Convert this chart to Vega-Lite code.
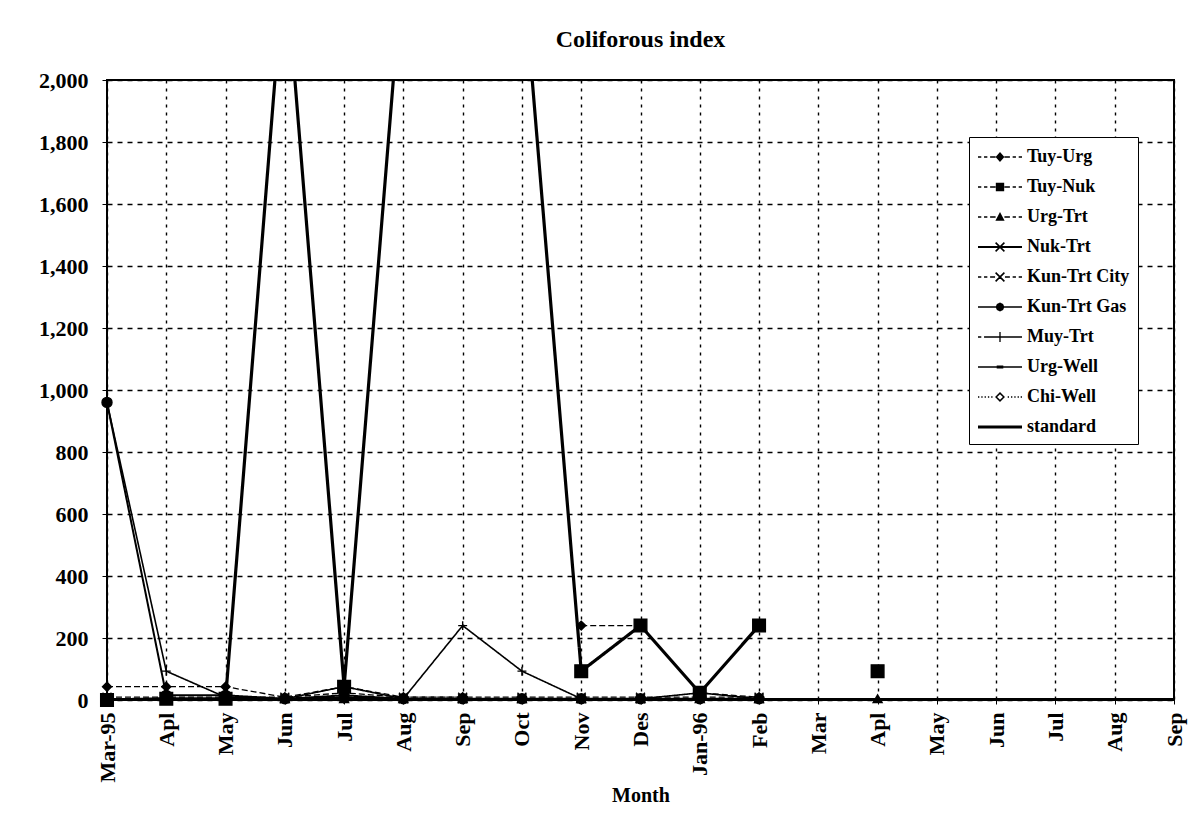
{
  "$schema": "https://vega.github.io/schema/vega-lite/v6.json",
  "width": 1067,
  "height": 620,
  "autosize": {"type": "none"},
  "padding": {"left": 107, "top": 80, "right": 28, "bottom": 124},
  "background": "white",
  "title": {"text": "Coliforous index", "font": "Liberation Serif", "fontSize": 24, "fontWeight": "bold", "color": "black", "offset": 17, "anchor": "middle"},
  "config": {"view": {"stroke": "black", "strokeWidth": 2}},
  "datasets": {
    "main": [
      {"series": "Tuy-Urg", "month": "Mar-95", "value": 43},
      {"series": "Tuy-Urg", "month": "Apl-95", "value": 43},
      {"series": "Tuy-Urg", "month": "May-95", "value": 43},
      {"series": "Tuy-Urg", "month": "Jun-95", "value": 9},
      {"series": "Tuy-Urg", "month": "Jul-95", "value": 43},
      {"series": "Tuy-Urg", "month": "Aug-95", "value": 9},
      {"series": "Tuy-Urg", "month": "Sep-95", "value": 9},
      {"series": "Tuy-Urg", "month": "Oct-95", "value": null},
      {"series": "Tuy-Urg", "month": "Nov-95", "value": 240},
      {"series": "Tuy-Urg", "month": "Des-95", "value": 240},
      {"series": "Tuy-Urg", "month": "Jan-96", "value": 23},
      {"series": "Tuy-Urg", "month": "Feb-96", "value": 9},
      {"series": "Tuy-Nuk", "month": "Mar-95", "value": 0},
      {"series": "Tuy-Nuk", "month": "Apl-95", "value": 4},
      {"series": "Tuy-Nuk", "month": "May-95", "value": 4},
      {"series": "Tuy-Nuk", "month": "Jun-95", "value": 2400},
      {"series": "Tuy-Nuk", "month": "Jul-95", "value": 43},
      {"series": "Tuy-Nuk", "month": "Aug-95", "value": 2400},
      {"series": "Tuy-Nuk", "month": "Sep-95", "value": 2400},
      {"series": "Tuy-Nuk", "month": "Oct-95", "value": 2400},
      {"series": "Tuy-Nuk", "month": "Nov-95", "value": 93},
      {"series": "Tuy-Nuk", "month": "Des-95", "value": 240},
      {"series": "Tuy-Nuk", "month": "Jan-96", "value": 23},
      {"series": "Tuy-Nuk", "month": "Feb-96", "value": 240},
      {"series": "Tuy-Nuk", "month": "Mar-96", "value": null},
      {"series": "Tuy-Nuk", "month": "Apl-96", "value": 93},
      {"series": "Urg-Trt", "month": "Mar-95", "value": 4},
      {"series": "Urg-Trt", "month": "Apl-95", "value": 4},
      {"series": "Urg-Trt", "month": "May-95", "value": 4},
      {"series": "Urg-Trt", "month": "Jun-95", "value": 4},
      {"series": "Urg-Trt", "month": "Jul-95", "value": 4},
      {"series": "Urg-Trt", "month": "Aug-95", "value": 4},
      {"series": "Urg-Trt", "month": "Sep-95", "value": 4},
      {"series": "Urg-Trt", "month": "Oct-95", "value": 4},
      {"series": "Urg-Trt", "month": "Nov-95", "value": 4},
      {"series": "Urg-Trt", "month": "Des-95", "value": 4},
      {"series": "Urg-Trt", "month": "Jan-96", "value": 4},
      {"series": "Urg-Trt", "month": "Feb-96", "value": 4},
      {"series": "Urg-Trt", "month": "Mar-96", "value": null},
      {"series": "Urg-Trt", "month": "Apl-96", "value": 4},
      {"series": "Nuk-Trt", "month": "Mar-95", "value": 4},
      {"series": "Nuk-Trt", "month": "Apl-95", "value": 4},
      {"series": "Nuk-Trt", "month": "May-95", "value": 4},
      {"series": "Nuk-Trt", "month": "Jun-95", "value": 4},
      {"series": "Nuk-Trt", "month": "Jul-95", "value": 43},
      {"series": "Nuk-Trt", "month": "Aug-95", "value": 4},
      {"series": "Nuk-Trt", "month": "Sep-95", "value": 4},
      {"series": "Nuk-Trt", "month": "Oct-95", "value": 4},
      {"series": "Nuk-Trt", "month": "Nov-95", "value": 4},
      {"series": "Nuk-Trt", "month": "Des-95", "value": 4},
      {"series": "Nuk-Trt", "month": "Jan-96", "value": 23},
      {"series": "Nuk-Trt", "month": "Feb-96", "value": 4},
      {"series": "Kun-Trt City", "month": "Mar-95", "value": 9},
      {"series": "Kun-Trt City", "month": "Apl-95", "value": 9},
      {"series": "Kun-Trt City", "month": "May-95", "value": 9},
      {"series": "Kun-Trt City", "month": "Jun-95", "value": 9},
      {"series": "Kun-Trt City", "month": "Jul-95", "value": 23},
      {"series": "Kun-Trt City", "month": "Aug-95", "value": 9},
      {"series": "Kun-Trt City", "month": "Sep-95", "value": 9},
      {"series": "Kun-Trt City", "month": "Oct-95", "value": 9},
      {"series": "Kun-Trt City", "month": "Nov-95", "value": 9},
      {"series": "Kun-Trt City", "month": "Des-95", "value": 9},
      {"series": "Kun-Trt City", "month": "Jan-96", "value": 9},
      {"series": "Kun-Trt City", "month": "Feb-96", "value": 9},
      {"series": "Kun-Trt Gas", "month": "Mar-95", "value": 960},
      {"series": "Kun-Trt Gas", "month": "Apl-95", "value": 15},
      {"series": "Kun-Trt Gas", "month": "May-95", "value": 15},
      {"series": "Kun-Trt Gas", "month": "Jun-95", "value": 4},
      {"series": "Kun-Trt Gas", "month": "Jul-95", "value": 15},
      {"series": "Kun-Trt Gas", "month": "Aug-95", "value": 4},
      {"series": "Kun-Trt Gas", "month": "Sep-95", "value": 4},
      {"series": "Kun-Trt Gas", "month": "Oct-95", "value": 4},
      {"series": "Kun-Trt Gas", "month": "Nov-95", "value": 4},
      {"series": "Kun-Trt Gas", "month": "Des-95", "value": 4},
      {"series": "Kun-Trt Gas", "month": "Jan-96", "value": 4},
      {"series": "Kun-Trt Gas", "month": "Feb-96", "value": 4},
      {"series": "Muy-Trt", "month": "Mar-95", "value": 960},
      {"series": "Muy-Trt", "month": "Apl-95", "value": 93},
      {"series": "Muy-Trt", "month": "May-95", "value": 9},
      {"series": "Muy-Trt", "month": "Jun-95", "value": 4},
      {"series": "Muy-Trt", "month": "Jul-95", "value": 9},
      {"series": "Muy-Trt", "month": "Aug-95", "value": 4},
      {"series": "Muy-Trt", "month": "Sep-95", "value": 240},
      {"series": "Muy-Trt", "month": "Oct-95", "value": 93},
      {"series": "Muy-Trt", "month": "Nov-95", "value": 4},
      {"series": "Muy-Trt", "month": "Des-95", "value": 4},
      {"series": "Muy-Trt", "month": "Jan-96", "value": 4},
      {"series": "Muy-Trt", "month": "Feb-96", "value": 4},
      {"series": "Urg-Well", "month": "Mar-95", "value": 0},
      {"series": "Urg-Well", "month": "Apl-95", "value": 0},
      {"series": "Urg-Well", "month": "May-95", "value": 0},
      {"series": "Urg-Well", "month": "Jun-95", "value": 0},
      {"series": "Urg-Well", "month": "Jul-95", "value": 0},
      {"series": "Urg-Well", "month": "Aug-95", "value": 0},
      {"series": "Urg-Well", "month": "Sep-95", "value": 0},
      {"series": "Urg-Well", "month": "Oct-95", "value": 0},
      {"series": "Urg-Well", "month": "Nov-95", "value": 0},
      {"series": "Urg-Well", "month": "Des-95", "value": 0},
      {"series": "Urg-Well", "month": "Jan-96", "value": 0},
      {"series": "Urg-Well", "month": "Feb-96", "value": 0},
      {"series": "Chi-Well", "month": "Mar-95", "value": 3},
      {"series": "Chi-Well", "month": "Apl-95", "value": 3},
      {"series": "Chi-Well", "month": "May-95", "value": 3},
      {"series": "Chi-Well", "month": "Jun-95", "value": 3},
      {"series": "Chi-Well", "month": "Jul-95", "value": 3},
      {"series": "Chi-Well", "month": "Aug-95", "value": 3},
      {"series": "Chi-Well", "month": "Sep-95", "value": 3},
      {"series": "Chi-Well", "month": "Oct-95", "value": 3},
      {"series": "Chi-Well", "month": "Nov-95", "value": 3},
      {"series": "Chi-Well", "month": "Des-95", "value": 3},
      {"series": "Chi-Well", "month": "Jan-96", "value": 3},
      {"series": "Chi-Well", "month": "Feb-96", "value": 3},
      {"series": "standard", "month": "Mar-95", "value": 0},
      {"series": "standard", "month": "Apl-95", "value": 0},
      {"series": "standard", "month": "May-95", "value": 0},
      {"series": "standard", "month": "Jun-95", "value": 0},
      {"series": "standard", "month": "Jul-95", "value": 0},
      {"series": "standard", "month": "Aug-95", "value": 0},
      {"series": "standard", "month": "Sep-95", "value": 0},
      {"series": "standard", "month": "Oct-95", "value": 0},
      {"series": "standard", "month": "Nov-95", "value": 0},
      {"series": "standard", "month": "Des-95", "value": 0},
      {"series": "standard", "month": "Jan-96", "value": 0},
      {"series": "standard", "month": "Feb-96", "value": 0},
      {"series": "standard", "month": "Mar-96", "value": 0},
      {"series": "standard", "month": "Apl-96", "value": 0},
      {"series": "standard", "month": "May-96", "value": 0},
      {"series": "standard", "month": "Jun-96", "value": 0},
      {"series": "standard", "month": "Jul-96", "value": 0},
      {"series": "standard", "month": "Aug-96", "value": 0},
      {"series": "standard", "month": "Sep-96", "value": 0}
    ],
    "legendrows": [
      {"series": "Tuy-Urg", "month": "Mar-95", "value": 0},
      {"series": "Tuy-Nuk", "month": "Mar-95", "value": 0},
      {"series": "Urg-Trt", "month": "Mar-95", "value": 0},
      {"series": "Nuk-Trt", "month": "Mar-95", "value": 0},
      {"series": "Kun-Trt City", "month": "Mar-95", "value": 0},
      {"series": "Kun-Trt Gas", "month": "Mar-95", "value": 0},
      {"series": "Muy-Trt", "month": "Mar-95", "value": 0},
      {"series": "Urg-Well", "month": "Mar-95", "value": 0},
      {"series": "Chi-Well", "month": "Mar-95", "value": 0},
      {"series": "standard", "month": "Mar-95", "value": 0}
    ]
  },
  "encoding": {
    "x": {
      "field": "month", "type": "ordinal",
      "scale": {"type": "point", "padding": 0, "domain": ["Mar-95", "Apl-95", "May-95", "Jun-95", "Jul-95", "Aug-95", "Sep-95", "Oct-95", "Nov-95", "Des-95", "Jan-96", "Feb-96", "Mar-96", "Apl-96", "May-96", "Jun-96", "Jul-96", "Aug-96", "Sep-96"]},
      "axis": {
        "title": "Month", "titleFont": "Liberation Serif", "titleFontSize": 20, "titleFontWeight": "bold", "titleColor": "black", "titlePadding": 3,
        "labelAngle": 270, "labelFont": "Liberation Serif", "labelFontSize": 22, "labelFontWeight": "bold", "labelColor": "black", "labelPadding": 8,
        "labelExpr": "datum.label == 'Mar-95' || datum.label == 'Jan-96' ? datum.label : substring(datum.label, 0, 3)",
        "grid": true, "gridColor": "black", "gridDash": [3, 5], "gridWidth": 1.4, "gridOpacity": 1,
        "domain": false, "ticks": true, "tickColor": "black", "tickSize": 4, "tickWidth": 1
      }
    },
    "y": {
      "field": "value", "type": "quantitative",
      "scale": {"domain": [0, 2000], "nice": false, "zero": true},
      "axis": {
        "title": null, "values": [0, 200, 400, 600, 800, 1000, 1200, 1400, 1600, 1800, 2000], "format": ",d",
        "labelFont": "Liberation Serif", "labelFontSize": 22, "labelFontWeight": "bold", "labelColor": "black", "labelPadding": 14,
        "grid": true, "gridColor": "black", "gridDash": [5, 5], "gridWidth": 1.4, "gridOpacity": 1,
        "domain": false, "ticks": true, "tickColor": "black", "tickSize": 5, "tickWidth": 1
      }
    }
  },
  "layer": [
    {
      "data": {"name": "main"},
      "mark": {"type": "line", "clip": true, "color": "black", "invalid": "break-paths-show-domains"},
      "encoding": {
        "detail": {"field": "series", "type": "nominal"},
        "strokeDash": {"field": "series", "type": "nominal", "legend": null,
          "scale": {"type": "ordinal", "domain": ["Tuy-Urg", "Tuy-Nuk", "Urg-Trt", "Nuk-Trt", "Kun-Trt City", "Kun-Trt Gas", "Muy-Trt", "Urg-Well", "Chi-Well", "standard"],
                    "range": [[6, 3], [1, 0], [6, 3], [1, 0], [6, 3], [1, 0], [1, 0], [1, 0], [2, 3], [1, 0]]}},
        "strokeWidth": {"field": "series", "type": "nominal", "legend": null,
          "scale": {"type": "ordinal", "domain": ["Tuy-Urg", "Tuy-Nuk", "Urg-Trt", "Nuk-Trt", "Kun-Trt City", "Kun-Trt Gas", "Muy-Trt", "Urg-Well", "Chi-Well", "standard"],
                    "range": [1.3, 3.2, 1.3, 1.6, 1.3, 2, 1.6, 1.3, 1.3, 4]}}
      }
    },
    {
      "data": {"name": "main"},
      "transform": [{"filter": "datum.value != null && datum.value <= 2000 && datum.series != 'standard'"}],
      "mark": {"type": "point", "filled": true, "fill": "black", "stroke": "black", "strokeWidth": 1.4, "opacity": 1},
      "encoding": {
        "shape": {"field": "series", "type": "nominal", "legend": null,
          "scale": {"domain": ["Tuy-Urg", "Tuy-Nuk", "Urg-Trt", "Nuk-Trt", "Kun-Trt City", "Kun-Trt Gas", "Muy-Trt", "Urg-Well", "Chi-Well"],
                    "range": ["diamond", "square", "triangle-up", "M-1,-1L1,1M-1,1L1,-1", "M-1,-1L1,1M-1,1L1,-1", "circle", "M-1,0L1,0M0,-1L0,1", "M-1,-0.3L1,-0.3L1,0.3L-1,0.3Z", "M0,-1L0,1M-0.87,-0.5L0.87,0.5M-0.87,0.5L0.87,-0.5"]}},
        "size": {"field": "series", "type": "nominal", "legend": null,
          "scale": {"type": "ordinal", "domain": ["Tuy-Urg", "Tuy-Nuk", "Urg-Trt", "Nuk-Trt", "Kun-Trt City", "Kun-Trt Gas", "Muy-Trt", "Urg-Well", "Chi-Well"],
                    "range": [80, 160, 80, 80, 80, 100, 80, 50, 100]}}
      }
    },
    {
      "data": {"name": "legendrows"},
      "mark": {"type": "point", "filled": true, "fill": "black", "opacity": 0},
      "encoding": {
        "shape": {"field": "series", "type": "nominal",
          "scale": {"domain": ["Tuy-Urg", "Tuy-Nuk", "Urg-Trt", "Nuk-Trt", "Kun-Trt City", "Kun-Trt Gas", "Muy-Trt", "Urg-Well", "Chi-Well", "standard"],
                    "range": [
                      "M-1,-0.06L-0.7,-0.06L-0.7,0.06L-1,0.06ZM-0.45,-0.06L-0.15,-0.06L-0.15,0.06L-0.45,0.06ZM0.1,-0.06L0.6,-0.06L0.6,0.06L0.1,0.06ZM1,-0.45L1.4,0L1,0.45L0.6,0ZM1.4,-0.06L1.9,-0.06L1.9,0.06L1.4,0.06ZM2.15,-0.06L2.45,-0.06L2.45,0.06L2.15,0.06ZM2.7,-0.06L3,-0.06L3,0.06L2.7,0.06Z",
                      "M-1,-0.06L-0.7,-0.06L-0.7,0.06L-1,0.06ZM-0.45,-0.06L-0.15,-0.06L-0.15,0.06L-0.45,0.06ZM0.1,-0.06L0.6,-0.06L0.6,0.06L0.1,0.06ZM0.62,-0.38L1.38,-0.38L1.38,0.38L0.62,0.38ZM1.4,-0.06L1.9,-0.06L1.9,0.06L1.4,0.06ZM2.15,-0.06L2.45,-0.06L2.45,0.06L2.15,0.06ZM2.7,-0.06L3,-0.06L3,0.06L2.7,0.06Z",
                      "M-1,-0.06L-0.7,-0.06L-0.7,0.06L-1,0.06ZM-0.45,-0.06L-0.15,-0.06L-0.15,0.06L-0.45,0.06ZM0.1,-0.06L0.6,-0.06L0.6,0.06L0.1,0.06ZM1,-0.45L1.42,0.35L0.58,0.35ZM1.4,-0.06L1.9,-0.06L1.9,0.06L1.4,0.06ZM2.15,-0.06L2.45,-0.06L2.45,0.06L2.15,0.06ZM2.7,-0.06L3,-0.06L3,0.06L2.7,0.06Z",
                      "M-1,-0.08L3,-0.08L3,0.08L-1,0.08ZM0.65,-0.45L1.45,0.35L1.35,0.45L0.55,-0.35ZM0.55,0.35L1.35,-0.45L1.45,-0.35L0.65,0.45Z",
                      "M-1,-0.06L-0.7,-0.06L-0.7,0.06L-1,0.06ZM-0.45,-0.06L-0.15,-0.06L-0.15,0.06L-0.45,0.06ZM0.1,-0.06L0.55,-0.06L0.55,0.06L0.1,0.06ZM0.65,-0.45L1.45,0.35L1.35,0.45L0.55,-0.35ZM0.55,0.35L1.35,-0.45L1.45,-0.35L0.65,0.45ZM1.45,-0.06L1.9,-0.06L1.9,0.06L1.45,0.06ZM2.15,-0.06L2.45,-0.06L2.45,0.06L2.15,0.06ZM2.7,-0.06L3,-0.06L3,0.06L2.7,0.06Z",
                      "M-1,-0.06L3,-0.06L3,0.06L-1,0.06ZM1,-0.4L1.28,-0.28L1.4,0L1.28,0.28L1,0.4L0.72,0.28L0.6,0L0.72,-0.28Z",
                      "M-1,-0.06L-0.7,-0.06L-0.7,0.06L-1,0.06ZM-0.45,-0.06L3,-0.06L3,0.06L-0.45,0.06ZM0.94,-0.45L1.06,-0.45L1.06,0.45L0.94,0.45Z",
                      "M-1,-0.06L3,-0.06L3,0.06L-1,0.06ZM0.7,-0.13L1.3,-0.13L1.3,0.13L0.7,0.13Z",
                      "M-1,-0.06L-0.88,-0.06L-0.88,0.06L-1,0.06ZM-0.7,-0.06L-0.58,-0.06L-0.58,0.06L-0.7,0.06ZM-0.4,-0.06L-0.28,-0.06L-0.28,0.06L-0.4,0.06ZM-0.1,-0.06L0.02,-0.06L0.02,0.06L-0.1,0.06ZM0.2,-0.06L0.32,-0.06L0.32,0.06L0.2,0.06ZM1,-0.45L1.45,0L1,0.45L0.55,0ZM1,-0.26L0.74,0L1,0.26L1.26,0ZM1.7,-0.06L1.82,-0.06L1.82,0.06L1.7,0.06ZM2,-0.06L2.12,-0.06L2.12,0.06L2,0.06ZM2.3,-0.06L2.42,-0.06L2.42,0.06L2.3,0.06ZM2.6,-0.06L2.72,-0.06L2.72,0.06L2.6,0.06ZM2.88,-0.06L3,-0.06L3,0.06L2.88,0.06Z",
                      "M-1,-0.13L3,-0.13L3,0.13L-1,0.13Z"
                    ]},
          "legend": {
            "title": null, "orient": "none", "legendX": 862, "legendY": 57,
            "strokeColor": "black", "fillColor": "white", "padding": 8,
            "labelFont": "Liberation Serif", "labelFontSize": 18, "labelFontWeight": "bold", "labelColor": "black", "labelOffset": 26,
            "symbolSize": 484, "symbolFillColor": "black", "symbolOpacity": 1,
            "rowPadding": 9,
            "encode": {"symbols": {"update": {"opacity": {"value": 1}, "fill": {"value": "black"}}}}
          }
        }
      }
    }
  ],
  "resolve": {"scale": {"shape": "independent"}, "legend": {"shape": "independent"}}
}
